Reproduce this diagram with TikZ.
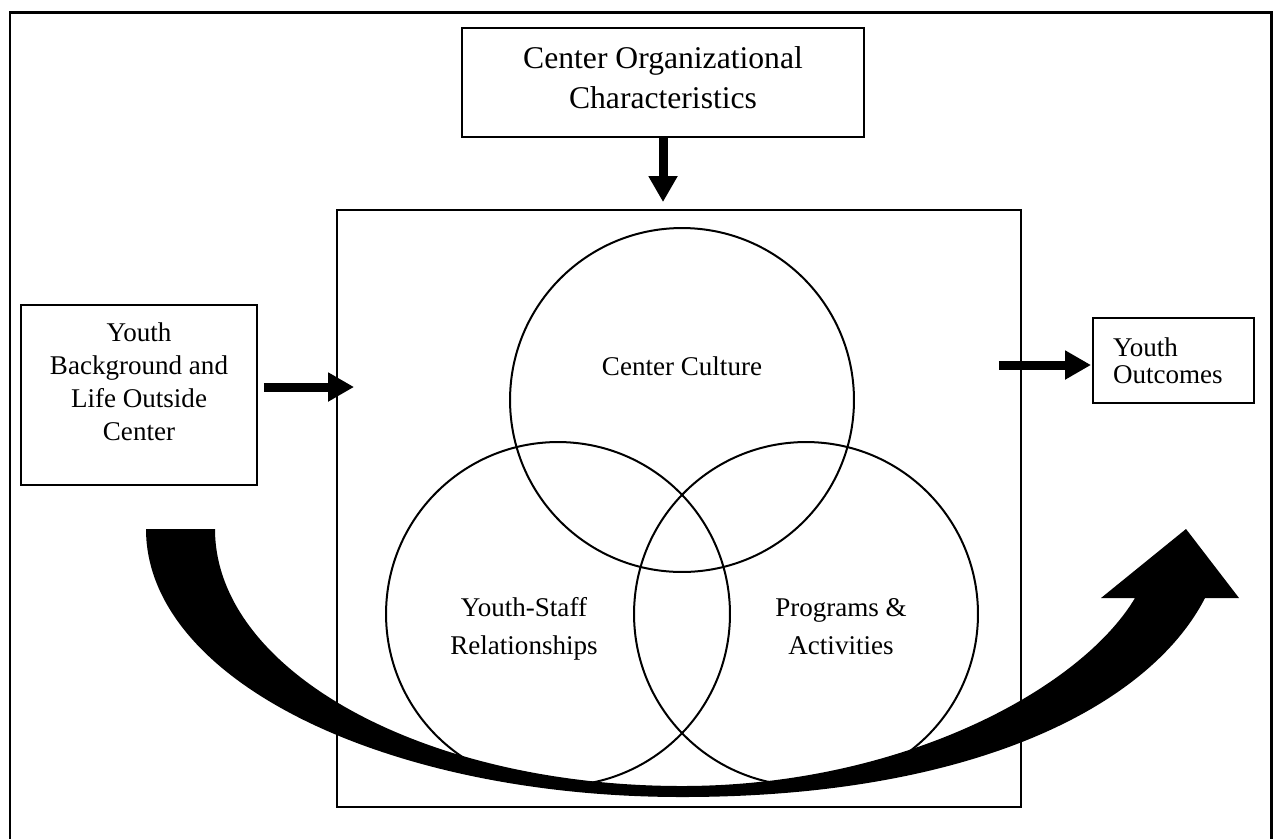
\documentclass[tikz,border=0pt]{standalone}
\usepackage{fontspec}
\setmainfont{Liberation Serif}
\usetikzlibrary{arrows.meta}

\begin{document}
\begin{tikzpicture}[x=0.02cm, y=-0.02cm,
    box/.style={draw, line width=0.04cm, inner sep=0pt},
    ring/.style={draw, circle, line width=0.04cm, minimum size=6.88cm, inner sep=0pt},
    txt/.style={font=\fontsize{15.4pt}{18.8pt}\selectfont, align=center, inner sep=0pt},
    blockarrow/.style={line width=0.18cm, -{Triangle[length=0.52cm, width=0.55cm]}}]
    \useasboundingbox (0,0) rectangle (1273,839);
    \draw[line width=0.06cm] (10,839) -- (10,12) -- (1271,12) -- (1271,839);

    \node[box, minimum width=8.06cm, minimum height=2.18cm, align=center, font=\fontsize{18pt}{22.8pt}\selectfont] (Org) at (663,82.5) {Center Organizational\\Characteristics\rule[-0.2cm]{0pt}{0.2cm}};
    \node[box, minimum width=13.68cm, minimum height=11.94cm] (Core) at (679,508.5) {};
    \node[box, minimum width=4.72cm, minimum height=3.6cm] (Bg) at (139,395) {};
    \node[txt, anchor=north] (BgText) at (139,322) {Youth\\Background and\\Life Outside\\Center};
    \node[box, minimum width=3.22cm, minimum height=1.7cm, inner xsep=0.4cm, text width=2.42cm, align=left, font=\fontsize{15.4pt}{15.5pt}\selectfont] (Out) at (1173.5,360.5) {Youth\\Outcomes};

    % Circles
    \node[ring] (Culture) at (682,400) {};
    \node[ring] (Staff) at (558,614) {};
    \node[ring] (Prog) at (806,614) {};
    \node[txt] (CultureText) at (682,366) {Center Culture};
    \node[txt, font=\fontsize{15.4pt}{21.6pt}\selectfont] (StaffText) at (524,629) {Youth-Staff\\Relationships};
    \node[txt, font=\fontsize{15.4pt}{21.6pt}\selectfont] (ProgText) at (841,627) {Programs \&\\Activities};

    % Arrows
    \coordinate (BgOut) at ([yshift=0.16cm]Bg.east);
    \coordinate (OutIn) at ([yshift=-0.09cm]Out.west);
    \draw[blockarrow, shorten >=0.14cm] (Org.south) -- (Org.south |- Core.north);
    \draw[blockarrow, shorten <=0.12cm, shorten >=-0.36cm] (BgOut) -- (BgOut -| Core.west);
    \draw[blockarrow, shorten <=-0.46cm, shorten >=0.02cm] (OutIn -| Core.east) -- (OutIn);

    % big curved arrow
    \fill (146,529) .. controls (146,680) and (386,797) .. (682,797)
        .. controls (975,797) and (1150,705) .. (1205,598) -- (1239,598) -- (1186,529) -- (1101,598) -- (1135,598)
        .. controls (1080,690) and (900,786) .. (682,786)
        .. controls (424,786) and (215,671) .. (215,529) -- cycle;
\end{tikzpicture}
\end{document}
